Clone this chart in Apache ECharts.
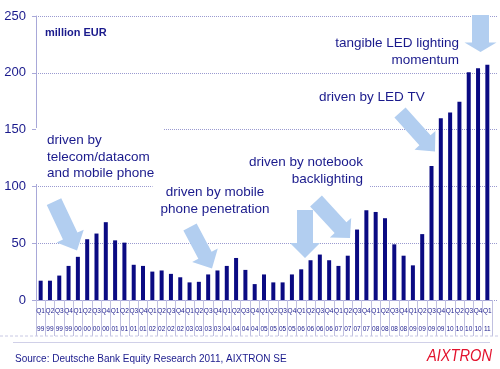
<!DOCTYPE html>
<html><head><meta charset="utf-8">
<script src="https://cdn.jsdelivr.net/npm/echarts@6/dist/echarts.min.js"></script>
<style>html,body{margin:0;padding:0;background:#fff}#c{width:500px;height:369px}</style>
</head><body><div id="c"></div>
<script>
const quarters = ["Q1","Q2","Q3","Q4","Q1","Q2","Q3","Q4","Q1","Q2","Q3","Q4","Q1","Q2","Q3","Q4",
  "Q1","Q2","Q3","Q4","Q1","Q2","Q3","Q4","Q1","Q2","Q3","Q4","Q1","Q2","Q3","Q4",
  "Q1","Q2","Q3","Q4","Q1","Q2","Q3","Q4","Q1","Q2","Q3","Q4","Q1","Q2","Q3","Q4","Q1"];
const years = ["99","99","99","99","00","00","00","00","01","01","01","01","02","02","02","02",
  "03","03","03","03","04","04","04","04","05","05","05","05","06","06","06","06",
  "07","07","07","07","08","08","08","08","09","09","09","09","10","10","10","10","11"];
const revenue = [17,17,21.5,30,38,53.5,58.5,68.5,52.5,50.5,31,30,25,26,23,20,
  15.5,16,22.5,26,30,37,26.5,14,22.5,15.5,15.5,22.5,27,35,40,35,
  30,39,62,79,77.5,72,49,39,30.5,58,118,160,165,174.5,200.5,204,207];
const yTicks = [0,50,100,150,200,250];
const unitLabel = "million EUR";
const notes = [
  "driven by\ntelecom/datacom\nand mobile phone",
  "driven by mobile\nphone penetration",
  "driven by notebook\nbacklighting",
  "driven by LED TV",
  "tangible LED lighting\nmomentum"
];
const sourceText = "Source: Deutsche Bank Equity Research 2011, AIXTRON SE";
const logoText = "AIXTRON";

const NAVY = '#1a1a8c';
const ARROW = '#b2cef0';
const FONT = "'Liberation Sans', Arial, sans-serif";

function arrow(tx, ty, px, py, sw, hw, hl) {
  const dx = px - tx, dy = py - ty, L = Math.hypot(dx, dy);
  const ux = dx / L, uy = dy / L, nx = -uy, ny = ux;
  const bx = px - ux * hl, by = py - uy * hl;
  return {
    type: 'polygon', z: 30,
    shape: { points: [
      [tx + nx * sw / 2, ty + ny * sw / 2], [bx + nx * sw / 2, by + ny * sw / 2],
      [bx + nx * hw / 2, by + ny * hw / 2], [px, py],
      [bx - nx * hw / 2, by - ny * hw / 2], [bx - nx * sw / 2, by - ny * sw / 2],
      [tx - nx * sw / 2, ty - ny * sw / 2]] },
    style: { fill: ARROW }
  };
}
function note(text, x, y, align, lh, pad) {
  return { type: 'text', z: 5, style: {
    text: text, x: x, y: y, align: align, verticalAlign: 'top',
    font: "13.5px " + FONT, fill: NAVY, lineHeight: lh,
    backgroundColor: '#fff', padding: pad } };
}

const chart = echarts.init(document.getElementById('c'), null, { renderer: 'canvas' });
chart.setOption({
  animation: false,
  backgroundColor: '#fff',
  grid: [
    { left: 36, right: 8, top: 16, bottom: 69 },
    { left: 36, right: 2, top: 16, bottom: 69 }
  ],
  xAxis: [
    { type: 'category', data: quarters, gridIndex: 0,
      axisLine: { lineStyle: { color: '#a8a8d8' } },
      axisTick: { show: true, interval: 0, length: 36, lineStyle: { color: '#c0c0e0' } },
      axisLabel: { interval: 0, margin: 2, fontSize: 6.5, lineHeight: 18, color: NAVY, fontFamily: FONT,
        formatter: (v, i) => v + '\n' + years[i] } },
    { type: 'value', gridIndex: 1, show: false, min: 0, max: 1 }
  ],
  yAxis: [
    { type: 'value', gridIndex: 0, min: yTicks[0], max: yTicks[yTicks.length - 1], interval: 50,
      axisLine: { show: true, lineStyle: { color: '#a8a8d8' } },
      axisTick: { show: true, length: 4, lineStyle: { color: '#a8a8d8' } },
      axisLabel: { margin: 10, fontSize: 13, color: NAVY, fontFamily: FONT },
      splitLine: { show: false } },
    { type: 'value', gridIndex: 1, min: yTicks[0], max: yTicks[yTicks.length - 1], interval: 50,
      axisLine: { show: false }, axisTick: { show: false }, axisLabel: { show: false },
      splitLine: { show: true, lineStyle: { color: '#9a9ad0', type: [1, 1], width: 1 } } }
  ],
  series: [{
    type: 'bar', data: revenue, xAxisIndex: 0, yAxisIndex: 0,
    barWidth: 4, itemStyle: { color: '#0a0a82' }, z: 10
  }],
  graphic: [
    { type: 'text', z: 5, style: { text: unitLabel, x: 45, y: 33, verticalAlign: 'middle',
      font: "bold 11px " + FONT, fill: NAVY } },
    note(notes[2], 369, 150.5, 'right', 16.5, [4, 6, 0, 6]),
    note(notes[0], 36, 128, 'left', 16.7, [4, 9, 2, 11]),
    note(notes[1], 215, 178.5, 'center', 17, [5, 8, 3, 8]),
    note(notes[3], 316, 86, 'left', 17, [3, 3, 3, 3]),
    note(notes[4], 462, 31.5, 'right', 17.5, [3, 3, 3, 3]),
    arrow(54, 201.7, 77, 250.5, 16, 30, 16),
    arrow(190, 227, 212, 268.5, 15, 29, 15),
    arrow(305, 210, 305, 258, 16, 30, 15),
    arrow(316, 201, 350, 238, 16, 29, 14),
    arrow(400, 112.5, 435, 151.5, 15, 28, 15),
    arrow(480.5, 15, 480.5, 52, 17, 32, 9.5),
    { type: 'line', z: 1, shape: { x1: 0, y1: 336, x2: 500, y2: 336 },
      style: { stroke: '#c8c8e4', lineWidth: 1, lineDash: [3, 2] } },
    { type: 'line', z: 1, shape: { x1: 13, y1: 342.5, x2: 490, y2: 342.5 },
      style: { stroke: '#d0d0e8', lineWidth: 1 } },
    { type: 'text', z: 5, style: { text: sourceText, x: 15, y: 359, verticalAlign: 'middle',
      font: "10px " + FONT, fill: NAVY } },
    { type: 'text', z: 5, x: 427, y: 356, scaleX: 0.86, style: { text: logoText, x: 0, y: 0,
      verticalAlign: 'middle', font: "italic 17px " + FONT, fill: '#e3122d' } }
  ]
});
</script>
</body></html>
